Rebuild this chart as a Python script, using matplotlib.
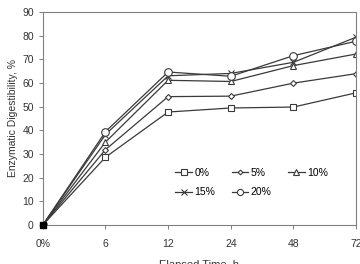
import matplotlib
matplotlib.use("Agg")
import matplotlib.pyplot as plt

plt.rcParams['font.family'] = ['Liberation Sans', 'DejaVu Sans']

# data
times = ["0%", "6", "12", "24", "48", "72"]
s0 = [0, 28.6, 47.7, 49.4, 49.8, 55.8]
s5 = [0, 31.8, 54.2, 54.4, 59.9, 63.9]
s10 = [0, 35.0, 61.1, 60.6, 67.3, 72.2]
s15 = [0, 38.2, 63.0, 64.0, 68.7, 79.3]
s20 = [0, 39.4, 64.6, 62.8, 71.5, 77.6]
labels = ["0%", "5%", "10%", "15%", "20%"]
markers = ["s", "D", "^", "x", "o"]
msizes = [5, 3, 5, 5, 5.5]

fig = plt.figure(figsize=(3.6, 2.64), dpi=100)
ax = fig.add_axes([0.119, 0.148, 0.870, 0.807])

x = list(range(len(times)))
lc = "#3a3a3a"
handles = []
for ys, lab, m, ms in zip([s0, s5, s10, s15, s20], labels, markers, msizes):
    h, = ax.plot(x, ys, color=lc, lw=0.9, marker=m, ms=ms, mfc="white",
                 mec=lc, mew=0.8, label=lab)
    handles.append(h)
ax.plot([0], [0], marker="s", ms=5, color="black", ls="none", zorder=5,
        clip_on=False)

ax.set_xlim(0, 5)
ax.set_ylim(0, 90)
ax.set_yticks(range(0, 91, 10))
ax.set_xticks(x)
ax.set_xticklabels(times)
for sp in ax.spines.values():
    sp.set_color("#808080")
    sp.set_linewidth(0.8)
ax.tick_params(colors="#808080", labelcolor="#333333", labelsize=7.5,
               length=3, width=0.7)
ax.tick_params(axis="x", pad=7)
ax.set_ylabel("Enzymatic Digestibility, %", fontsize=7.5, color="#333333", labelpad=3)
ax.set_xlabel("Elapsed Time, h", fontsize=8, color="#333333", labelpad=8)

order = [0, 3, 1, 4, 2]
ax.legend([handles[i] for i in order], [labels[i] for i in order],
          ncol=3, frameon=False, fontsize=7.5, loc="lower left",
          bbox_to_anchor=(0.41, 0.11), handlelength=1.6, handletextpad=0.2,
          columnspacing=1.6, labelspacing=0.9, borderaxespad=0,
          markerscale=0.8)

fig.savefig("out.png", dpi=100)
